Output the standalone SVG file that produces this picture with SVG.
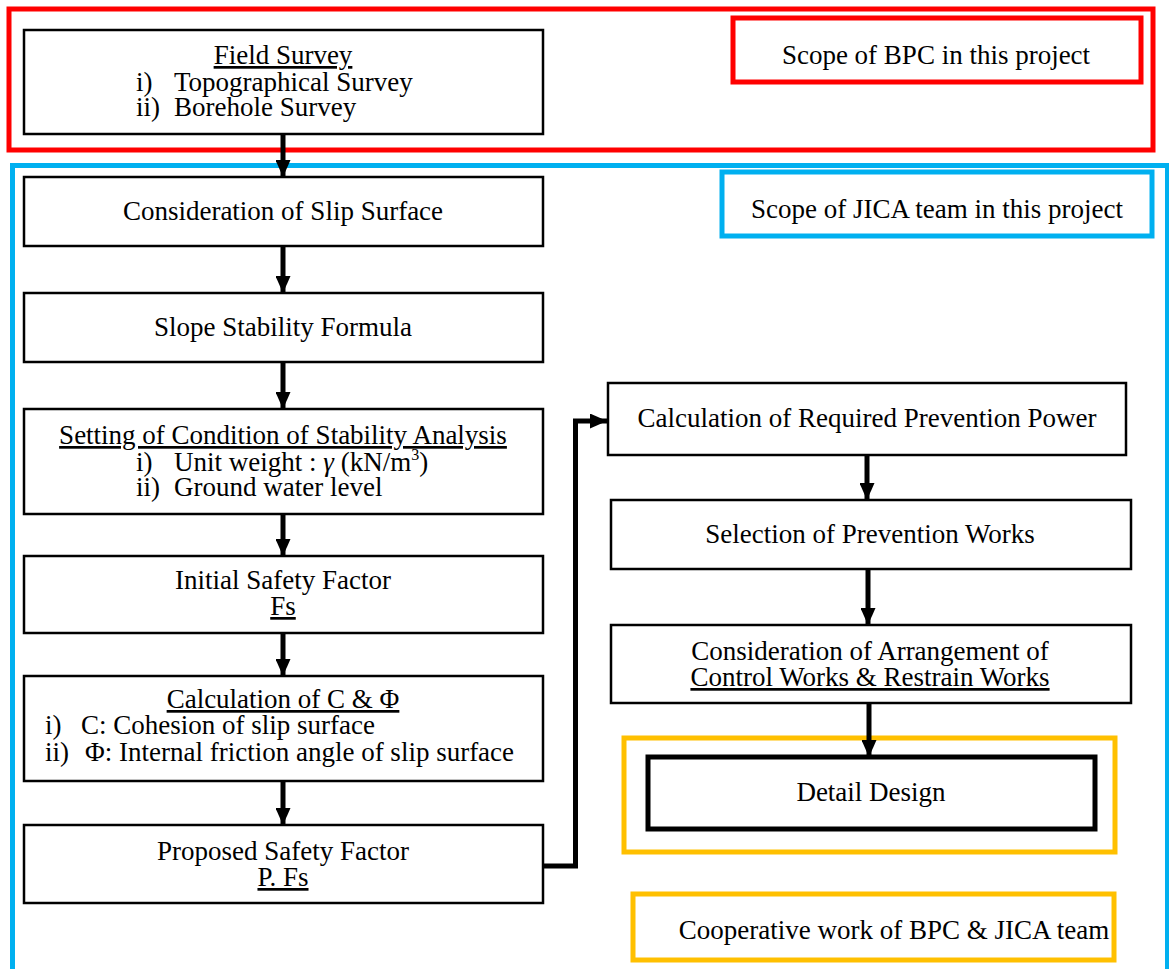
<svg xmlns="http://www.w3.org/2000/svg" width="1169" height="969" viewBox="0 0 1169 969">
<style>
text{font-family:'Liberation Serif','Times New Roman',serif;font-size:27px;fill:#000}
.c{text-anchor:middle}
.u{text-decoration:underline}
.box{fill:#fff;stroke:#000;stroke-width:2.5}
.red{fill:none;stroke:#ff0000;stroke-width:5}
.blue{fill:none;stroke:#00b0f0;stroke-width:5}
.yel{fill:none;stroke:#ffc000;stroke-width:5}
.con{fill:none;stroke:#000;stroke-width:5;marker-end:url(#ah)}
</style>
<defs>
<marker id="ah" viewBox="0 0 17 15" refX="17" refY="7.5" markerWidth="17" markerHeight="15" orient="auto" markerUnits="userSpaceOnUse">
<path d="M0,0 L17,7.5 L0,15 z" fill="#000"/>
</marker>
</defs>
<rect width="1169" height="969" fill="#fff"/>
<g id="scope-bpc-area"><rect class="red" x="9" y="9" width="1144" height="141"/></g>
<g id="scope-jica-area"><rect class="blue" x="12.5" y="165.5" width="1155" height="810"/></g>
<g id="legend-bpc"><rect class="red" x="733" y="18" width="408" height="64"/><text class="c" x="936" y="64">Scope of BPC in this project</text></g>
<g id="legend-jica"><rect class="blue" x="722" y="172" width="430" height="64"/><text class="c" x="937" y="218">Scope of JICA team in this project</text></g>
<g id="field-survey"><rect class="box" x="24" y="30" width="519" height="104"/>
<text class="c u" x="283" y="64">Field Survey</text>
<text x="136" y="91">i)</text><text x="174" y="91">Topographical Survey</text>
<text x="136" y="116">ii)</text><text x="174" y="116">Borehole Survey</text></g>
<g id="slip-surface"><rect class="box" x="24" y="177" width="519" height="69"/><text class="c" x="283" y="220">Consideration of Slip Surface</text></g>
<g id="slope-formula"><rect class="box" x="24" y="293" width="519" height="69"/><text class="c" x="283" y="336">Slope Stability Formula</text></g>
<g id="setting-condition"><rect class="box" x="24" y="409" width="519" height="105"/>
<text class="c u" x="283" y="444">Setting of Condition of Stability Analysis</text>
<text x="136" y="471">i)</text><text x="174" y="471">Unit weight : <tspan font-style="italic">γ</tspan> (kN/m<tspan font-size="16" dy="-11">3</tspan><tspan dy="11">)</tspan></text>
<text x="136" y="496">ii)</text><text x="174" y="496">Ground water level</text></g>
<g id="initial-fs"><rect class="box" x="24" y="556" width="519" height="77"/>
<text class="c" x="283" y="589">Initial Safety Factor</text><text class="c u" x="283" y="615">Fs</text></g>
<g id="calc-c-phi"><rect class="box" x="24" y="676" width="519" height="105"/>
<text class="c u" x="283" y="708">Calculation of C &amp;  Φ</text>
<text x="45" y="734">i)</text><text x="81" y="734">C: Cohesion of slip surface</text>
<text x="45" y="761">ii)</text><text x="85" y="761">Φ: Internal friction angle of slip surface</text></g>
<g id="proposed-fs"><rect class="box" x="24" y="825" width="519" height="78"/>
<text class="c" x="283" y="860">Proposed Safety Factor</text><text class="c u" x="283" y="886">P. Fs</text></g>
<g id="required-power"><rect class="box" x="608" y="383" width="518" height="72"/><text class="c" x="867" y="427">Calculation of Required Prevention Power</text></g>
<g id="selection"><rect class="box" x="611" y="500" width="520" height="69"/><text class="c" x="870" y="543">Selection of Prevention Works</text></g>
<g id="arrangement"><rect class="box" x="611" y="625" width="520" height="78"/>
<text class="c" x="870" y="660">Consideration of Arrangement of</text><text class="c u" x="870" y="686">Control Works &amp; Restrain Works</text></g>
<g id="cooperative-area"><rect class="yel" x="624" y="738" width="491" height="114"/></g>
<g id="detail-design"><rect fill="#fff" stroke="#000" stroke-width="5" x="648" y="757" width="447" height="72"/><text class="c" x="871" y="801">Detail Design</text></g>
<g id="legend-coop"><rect class="yel" x="633" y="894" width="481" height="66"/><text class="c" x="894" y="939">Cooperative work of BPC &amp; JICA team</text></g>
<g id="connectors">
<line class="con" x1="283" y1="134" x2="283" y2="177"/>
<line class="con" x1="283" y1="246" x2="283" y2="293"/>
<line class="con" x1="283" y1="362" x2="283" y2="409"/>
<line class="con" x1="283" y1="514" x2="283" y2="556"/>
<line class="con" x1="283" y1="633" x2="283" y2="676"/>
<line class="con" x1="283" y1="781" x2="283" y2="825"/>
<polyline class="con" points="543,866 575.5,866 575.5,421 607,421"/>
<line class="con" x1="867" y1="455" x2="867" y2="500"/>
<line class="con" x1="868" y1="569" x2="868" y2="625"/>
<line class="con" x1="869" y1="703" x2="869" y2="757"/>
</g>
</svg>
